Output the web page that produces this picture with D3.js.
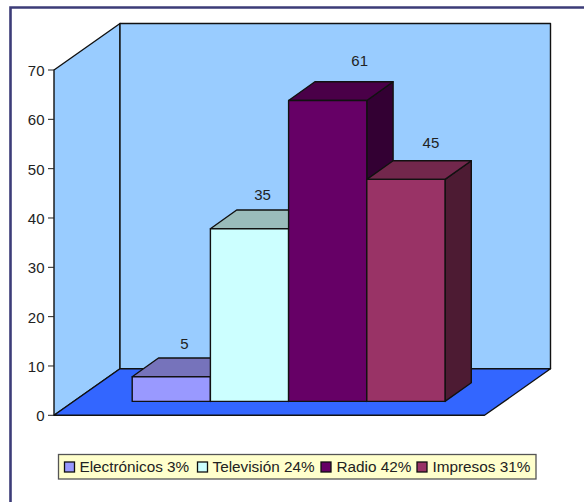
<!DOCTYPE html>
<html><head><meta charset="utf-8">
<script src="https://cdn.jsdelivr.net/npm/d3@7"></script>
<style>html,body{margin:0;padding:0;background:#fff}svg{display:block}text{font-family:"Liberation Sans",Arial,sans-serif;fill:#222}</style>
</head><body><svg id="c" width="584" height="502"></svg>
<script>
const categories=["Electrónicos","Televisión","Radio","Impresos"];
const values=[5,35,61,45];
const legendLabels=["Electrónicos 3%","Televisión 24%","Radio 42%","Impresos 31%"];
const frontColors=["#9999ff","#ccffff","#660066","#993366"];
const topColors=["#7673bb","#9abcbb","#4a0048","#72274c"];
const sideColors=["#4d4d80","#669999","#330033","#4d1b33"];
const yTicks=[0,10,20,30,40,50,60,70];

const svg=d3.select("#c");
const y=d3.scaleLinear().domain([0,70]).range([415.3,70]);
const unit=y(0)-y(1);
const ax=54,wx=66,wy=46.5,floorW=430.5;
const bx=26.3,by=18.7,base=401.4;
const x=d3.scaleBand().domain(categories).range([132.2,445]);
const path=p=>"M"+p.map(q=>q.join(",")).join("L")+"Z";
const stroke={stroke:"#111","stroke-width":1.4,"stroke-linejoin":"round"};
function poly(pts,fill,s=stroke){const e=svg.append("path").attr("d",path(pts)).attr("fill",fill);Object.entries(s).forEach(([k,v])=>e.attr(k,v));return e;}

// frame
svg.append("path").attr("d","M10.5,502V7.5H584").attr("fill","none").attr("stroke","#3c3c78").attr("stroke-width",2.6);

// walls and floor
const y0=y(0),yT=y(70);
poly([[ax,y0],[ax,yT],[ax+wx,yT-wy],[ax+wx,y0-wy]],"#99ccff");
poly([[ax+wx,y0-wy],[ax+wx,yT-wy],[ax+wx+floorW,yT-wy],[ax+wx+floorW,y0-wy]],"#99ccff");
poly([[ax,y0],[ax+wx,y0-wy],[ax+wx+floorW,y0-wy],[ax+floorW,y0]],"#3366ff");

// axis
yTicks.forEach(t=>{
  svg.append("line").attr("x1",ax-6).attr("x2",ax).attr("y1",y(t)).attr("y2",y(t)).attr("stroke","#222").attr("stroke-width",1);
  svg.append("text").attr("x",ax-9.5).attr("y",y(t)+6).attr("text-anchor","end").attr("font-size",15).text(t);
});

// bars
const labelNudgeX=[13,13,32,25], labelNudgeY=[9,10,16,13];
categories.forEach((c,i)=>{
  const l=x(c),r=l+x.bandwidth(),t=base-values[i]*unit;
  poly([[r,base],[r,t],[r+bx,t-by],[r+bx,base-by]],sideColors[i]);
  poly([[l,t],[l+bx,t-by],[r+bx,t-by],[r,t]],topColors[i]);
  poly([[l,base],[l,t],[r,t],[r,base]],frontColors[i]);
  svg.append("text").attr("x",(l+r)/2+labelNudgeX[i]).attr("y",t-by-labelNudgeY[i]).attr("text-anchor","middle").attr("font-size",15).text(values[i]);
});

// legend
svg.append("rect").attr("x",58.5).attr("y",454.5).attr("width",477.5).attr("height",24.5).attr("fill","#ffffcc").attr("stroke","#555").attr("stroke-width",1.3);
const lx=[64.5,197.5,321,417];
const tx=[79.5,212.5,336.5,432.5];
legendLabels.forEach((s,i)=>{
  svg.append("rect").attr("x",lx[i]).attr("y",462).attr("width",10).attr("height",10).attr("fill",frontColors[i]).attr("stroke","#111").attr("stroke-width",1.3);
  svg.append("text").attr("x",tx[i]).attr("y",472).attr("font-size",15.3).text(s);
});
</script></body></html>
